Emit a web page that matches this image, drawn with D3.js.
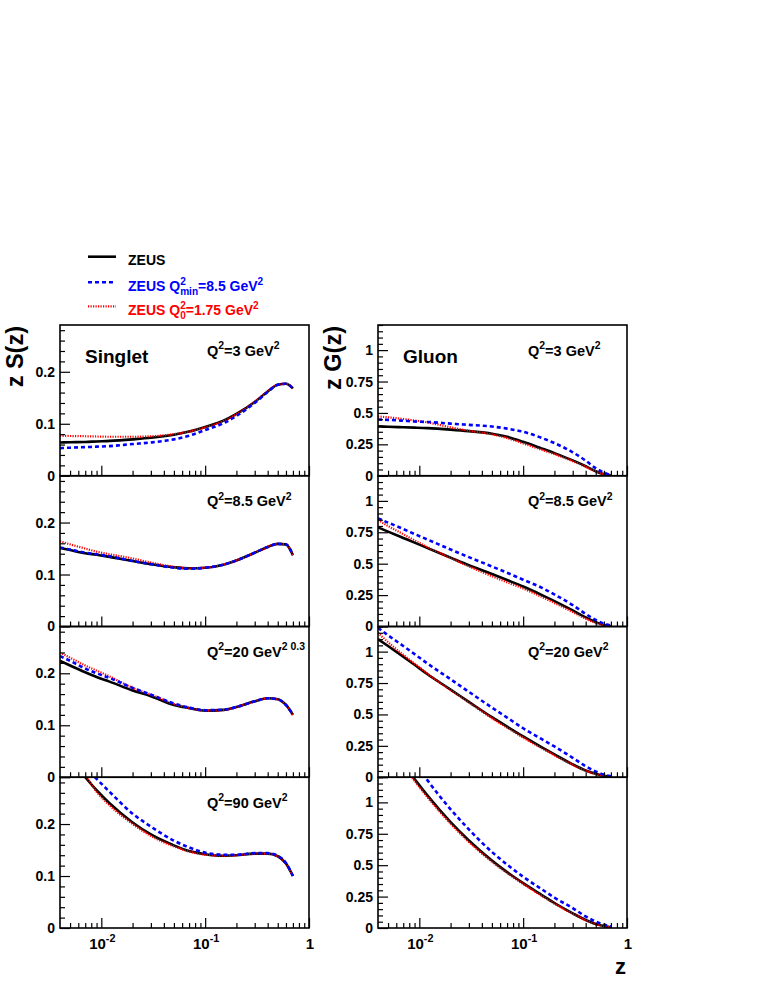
<!DOCTYPE html>
<html><head><meta charset="utf-8">
<script src="https://cdn.jsdelivr.net/npm/d3@7"></script>
<style>
body{margin:0;background:#fff}
svg{display:block}
text{font-family:"Liberation Sans",Arial,Helvetica,sans-serif;white-space:pre}
</style>
</head><body>
<svg id="c" width="758" height="981"></svg>
<script>
// ---------------- data ----------------
const zGrid = [0.004, 0.005, 0.007, 0.009, 0.012, 0.02, 0.03, 0.05, 0.07, 0.1, 0.15, 0.2, 0.3, 0.4, 0.5, 0.6, 0.7];
const q2Values = ["3", "8.5", "20", "90"];

// Singlet z S(z), one row per Q2 panel
const singletZEUS = [
  [0.064, 0.0645, 0.065, 0.066, 0.067, 0.070, 0.073, 0.079, 0.085, 0.094, 0.106, 0.119, 0.142, 0.162, 0.175, 0.177, 0.168],
  [0.151, 0.147, 0.141, 0.138, 0.134, 0.126, 0.120, 0.114, 0.112, 0.113, 0.119, 0.127, 0.142, 0.153, 0.159, 0.158, 0.137],
  [0.224, 0.215, 0.202, 0.193, 0.184, 0.167, 0.156, 0.139, 0.133, 0.128, 0.1296, 0.135, 0.146, 0.152, 0.150, 0.139, 0.120],
  [null, null, 0.29, 0.265, 0.240, 0.203, 0.180, 0.159, 0.148, 0.142, 0.139, 0.140, 0.143, 0.143, 0.138, 0.124, 0.100]
];
const singletQmin = [
  [0.053, 0.054, 0.055, 0.056, 0.057, 0.061, 0.064, 0.070, 0.077, 0.088, 0.101, 0.115, 0.140, 0.161, 0.175, 0.177, 0.168],
  [0.152, 0.148, 0.142, 0.139, 0.135, 0.126, 0.120, 0.113, 0.111, 0.113, 0.119, 0.127, 0.142, 0.153, 0.159, 0.158, 0.137],
  [0.233, 0.224, 0.209, 0.200, 0.191, 0.172, 0.159, 0.142, 0.134, 0.129, 0.130, 0.135, 0.146, 0.152, 0.150, 0.139, 0.120],
  [null, null, 0.31, 0.287, 0.262, 0.220, 0.195, 0.168, 0.155, 0.145, 0.141, 0.141, 0.144, 0.144, 0.139, 0.125, 0.100]
];
const singletQ0 = [
  [0.077, 0.0765, 0.076, 0.0755, 0.075, 0.075, 0.076, 0.080, 0.085, 0.093, 0.105, 0.118, 0.142, 0.162, 0.175, 0.177, 0.168],
  [0.164, 0.158, 0.150, 0.144, 0.139, 0.131, 0.123, 0.115, 0.112, 0.113, 0.119, 0.127, 0.142, 0.153, 0.159, 0.158, 0.137],
  [0.240, 0.230, 0.215, 0.205, 0.194, 0.172, 0.159, 0.141, 0.133, 0.128, 0.129, 0.135, 0.146, 0.152, 0.150, 0.139, 0.120],
  [null, null, 0.295, 0.262, 0.236, 0.200, 0.177, 0.157, 0.147, 0.141, 0.139, 0.140, 0.143, 0.143, 0.138, 0.124, 0.100]
];

// Gluon z G(z)
const gluonZEUS = [
  [0.392, 0.390, 0.386, 0.383, 0.379, 0.367, 0.355, 0.335, 0.310, 0.270, 0.218, 0.180, 0.122, 0.076, 0.036, 0.012, 0.003],
  [0.789, 0.755, 0.705, 0.668, 0.624, 0.548, 0.488, 0.418, 0.370, 0.318, 0.252, 0.202, 0.128, 0.072, 0.035, 0.012, 0.002],
  [1.100, 1.045, 0.960, 0.895, 0.820, 0.698, 0.600, 0.478, 0.403, 0.325, 0.240, 0.182, 0.102, 0.054, 0.027, 0.011, 0.003],
  [null, null, 1.305, 1.185, 1.054, 0.843, 0.697, 0.537, 0.445, 0.357, 0.264, 0.199, 0.117, 0.064, 0.032, 0.016, 0.005]
];
const gluonQmin = [
  [0.448, 0.445, 0.438, 0.432, 0.428, 0.415, 0.405, 0.392, 0.375, 0.350, 0.302, 0.260, 0.187, 0.120, 0.060, 0.025, 0.005],
  [0.861, 0.827, 0.776, 0.736, 0.692, 0.613, 0.552, 0.478, 0.428, 0.372, 0.310, 0.255, 0.170, 0.100, 0.052, 0.023, 0.007],
  [1.190, 1.130, 1.045, 0.980, 0.905, 0.780, 0.680, 0.555, 0.475, 0.390, 0.305, 0.245, 0.155, 0.088, 0.046, 0.021, 0.008],
  [null, null, null, 1.320, 1.175, 0.945, 0.785, 0.605, 0.505, 0.408, 0.310, 0.242, 0.158, 0.092, 0.051, 0.027, 0.013]
];
const gluonQ0 = [
  [0.472, 0.465, 0.452, 0.440, 0.425, 0.385, 0.358, 0.330, 0.300, 0.257, 0.207, 0.172, 0.116, 0.071, 0.035, 0.013, 0.003],
  [0.848, 0.800, 0.735, 0.685, 0.632, 0.545, 0.478, 0.400, 0.352, 0.302, 0.236, 0.187, 0.115, 0.062, 0.029, 0.010, 0.002],
  [1.150, 1.075, 0.975, 0.905, 0.825, 0.695, 0.595, 0.470, 0.395, 0.315, 0.232, 0.175, 0.098, 0.051, 0.025, 0.009, 0.002],
  [null, null, 1.290, 1.170, 1.040, 0.830, 0.685, 0.527, 0.437, 0.350, 0.258, 0.193, 0.114, 0.062, 0.031, 0.015, 0.005]
];

const singletTicks = [0, 0.1, 0.2];
const singletTickLabels = ["0", "0.1", "0.2"];
const gluonTicks = [0, 0.25, 0.5, 0.75, 1];
const gluonTickLabels = ["0", "0.25", "0.5", "0.75", "1"];
const xMajorTicks = [0.01, 0.1, 1];
const xTickLabels = [["10", "-2"], ["10", "-1"], ["1", ""]];
const legendNames = ["ZEUS", "ZEUS Q2min", "ZEUS Q20"];

// ---------------- layout ----------------
const svg = d3.select("#c");
const FONT = 14;
const top0 = 325, bot0 = 928;
const ph = (bot0 - top0) / 4;
const cols = [
  {x0: 60, x1: 309, dom: [0, 0.29], major: singletTicks, labels: singletTickLabels, minorStep: 0.02,
   series: [singletZEUS, singletQmin, singletQ0], title: "z S(z)", titleX: 23, name: "Singlet", nameX: 85, qx: 207},
  {x0: 378, x1: 627, dom: [0, 1.2], major: gluonTicks, labels: gluonTickLabels, minorStep: 0.05,
   series: [gluonZEUS, gluonQmin, gluonQ0], title: "z G(z)", titleX: 341, name: "Gluon", nameX: 403, qx: 528}
];
const styles = [
  {color: "#000000", width: 2.6, dash: null},
  {color: "#0000ff", width: 2.6, dash: "4,3"},
  {color: "#ff0000", width: 2.2, dash: "1.2,1.3"}
];

function rich(parent, x, y, parts, size, anchor, fill, weight) {
  const g = parent.append("g");
  let cx = 0, lastX = 0;
  parts.forEach(p => {
    if (!p.t) return;
    const small = p.sup || p.sub;
    const fs = small ? size * 0.72 : size;
    const dy = p.sup ? -size * 0.45 : (p.sub ? size * 0.33 : 0);
    const px = p.stack ? lastX : cx;
    const t = g.append("text").attr("x", px).attr("y", dy)
      .attr("font-size", fs).attr("font-weight", weight || "bold")
      .attr("fill", fill || "#000").text(p.t);
    const w = t.node().getComputedTextLength();
    if (p.stack) { cx = Math.max(cx, px + w); }
    else { lastX = px; cx = px + w; }
  });
  const off = anchor === "end" ? -cx : anchor === "middle" ? -cx / 2 : 0;
  g.attr("transform", `translate(${x + off},${y})`);
  return g;
}

const minorX = [];
[-3, -2, -1].forEach(e => { for (let k = 2; k <= 9; k++) { const v = k * Math.pow(10, e); if (v > 0.004 && v < 1) minorX.push(v); } });

cols.forEach((c, ci) => {
  const x = d3.scaleLog().domain([0.004, 1]).range([c.x0, c.x1]);
  for (let r = 0; r < 4; r++) {
    const yt = top0 + r * ph, yb = yt + ph;
    const y = d3.scaleLinear().domain(c.dom).range([yb, yt]);
    const g = svg.append("g");
    const cid = `clip${ci}${r}`;
    svg.append("clipPath").attr("id", cid).append("rect")
      .attr("x", c.x0).attr("y", yt).attr("width", c.x1 - c.x0).attr("height", ph);

    [0, 2, 1].forEach(si => {
      const vals = c.series[si][r];
      const pts = zGrid.map((z, i) => [z, vals[i]]);
      const line = d3.line().defined(d => d[1] !== null)
        .x(d => x(d[0])).y(d => y(d[1])).curve(d3.curveMonotoneX);
      const st = styles[si];
      g.append("path").attr("d", line(pts)).attr("clip-path", `url(#${cid})`)
        .attr("fill", "none").attr("stroke", st.color).attr("stroke-width", st.width)
        .attr("stroke-dasharray", st.dash);
    });

    const minorY = d3.range(c.minorStep, c.dom[1] + 1e-9, c.minorStep)
      .filter(v => !c.major.some(m => Math.abs(m - v) < 1e-6));
    const ayMinor = g.append("g").attr("transform", `translate(${c.x0},0)`)
      .call(d3.axisLeft(y).tickValues(minorY).tickSizeInner(-5).tickSizeOuter(0).tickFormat(""));
    const ayMajor = g.append("g").attr("transform", `translate(${c.x0},0)`)
      .call(d3.axisLeft(y).tickValues(c.major).tickSizeInner(-10).tickSizeOuter(0).tickPadding(5)
        .tickFormat((d, i) => c.labels[i]));
    [ayMinor, ayMajor].forEach(a => {
      a.select(".domain").remove();
      a.selectAll("line").attr("stroke", "#000").attr("stroke-width", 1.2);
      a.selectAll("text").attr("font-size", FONT).attr("font-weight", "bold").attr("fill", "#000")
        .attr("font-family", '"Liberation Sans",Arial,Helvetica,sans-serif');
    });

    const axMinor = g.append("g").attr("transform", `translate(0,${yb})`)
      .call(d3.axisBottom(x).tickValues(minorX).tickSizeInner(-5).tickSizeOuter(0).tickFormat(""));
    const axMajor = g.append("g").attr("transform", `translate(0,${yb})`)
      .call(d3.axisBottom(x).tickValues(xMajorTicks).tickSizeInner(-10).tickSizeOuter(0).tickFormat(""));
    [axMinor, axMajor].forEach(a => {
      a.select(".domain").remove();
      a.selectAll("line").attr("stroke", "#000").attr("stroke-width", 1.2);
    });

    g.append("rect").attr("x", c.x0).attr("y", yt).attr("width", c.x1 - c.x0).attr("height", ph)
      .attr("fill", "none").attr("stroke", "#000").attr("stroke-width", 1.6);

    if (!(ci === 1 && r === 3)) {
      const parts = [{t: "Q"}, {t: "2", sup: true}, {t: "=" + q2Values[r] + " GeV"},
        {t: (ci === 0 && r === 2) ? "2 0.3" : "2", sup: true}];
      rich(svg, c.qx, yt + 30.5, parts, 14.5, "start", "#000", "bold");
    }
    if (r === 3) {
      xMajorTicks.forEach((v, i) => {
        rich(svg, x(v) + 1, yb + 20.5, [{t: xTickLabels[i][0]}, {t: xTickLabels[i][1], sup: true}],
          15, "middle", "#000", "bold");
      });
    }
  }
  svg.append("text").attr("x", c.nameX).attr("y", top0 + 37.5).attr("font-size", 19)
    .attr("font-weight", "bold").attr("fill", "#000").text(c.name);
  svg.append("text").attr("transform", `translate(${c.titleX},${top0 + 1}) rotate(-90)`)
    .attr("text-anchor", "end").attr("font-size", 23.5).attr("font-weight", "bold").text(c.title);
});

svg.append("text").attr("x", 626).attr("y", 974).attr("text-anchor", "end")
  .attr("font-size", 22).attr("font-weight", "bold").text("z");

const legY = [256.7, 282.3, 306.3];
const legParts = [
  [{t: legendNames[0]}],
  [{t: "ZEUS Q"}, {t: "2", sup: true}, {t: "min", sub: true, stack: true}, {t: "=8.5 GeV"}, {t: "2", sup: true}],
  [{t: "ZEUS Q"}, {t: "2", sup: true}, {t: "0", sub: true, stack: true}, {t: "=1.75 GeV"}, {t: "2", sup: true}]
];
styles.forEach((st, i) => {
  svg.append("line").attr("x1", 88).attr("x2", 116).attr("y1", legY[i]).attr("y2", legY[i])
    .attr("stroke", st.color).attr("stroke-width", st.width).attr("stroke-dasharray", st.dash);
  rich(svg, 128, legY[i] + 8.5, legParts[i], 14, "start", st.color, "bold");
});
</script>
</body></html>
